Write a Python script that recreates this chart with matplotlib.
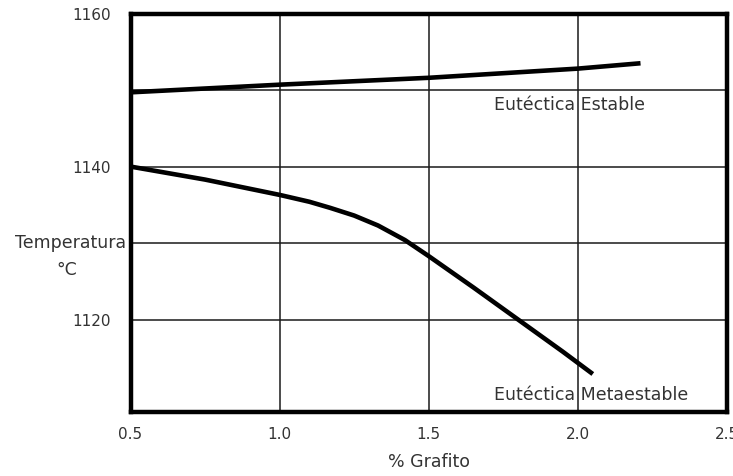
import matplotlib.pyplot as plt

# Curva eutéctica estable (grafito)
x_estable = [0.5, 1.0, 1.5, 2.0, 2.21]
t_estable = [1149.7, 1150.7, 1151.6, 1152.8, 1153.5]

# Curva eutéctica metaestable (cementita)
x_meta = [0.5, 0.75, 1.0, 1.1, 1.17, 1.25, 1.33, 1.42, 1.5, 1.65, 1.8, 1.95, 2.05]
t_meta = [1140.0, 1138.3, 1136.3, 1135.4, 1134.6, 1133.6, 1132.3, 1130.4, 1128.3, 1124.2, 1120.0, 1115.8, 1112.9]

x_ticks = [0.5, 1.0, 1.5, 2.0, 2.5]
x_labels = ['0.5', '1.0', '1.5', '2.0', '2.5']
y_ticks = [1120, 1140, 1160]
y_minor = [1130, 1150]

plt.rcParams.update({
    'font.family': 'DejaVu Sans',
    'font.size': 11,
})

txt_color = '#333333'
label_size = 12.5

fig = plt.figure(figsize=(7.33, 4.76), dpi=100)
ax = fig.add_axes([130.5 / 733, 1 - 411.5 / 476, 596.5 / 733, 398 / 476])

ax.plot(x_estable, t_estable, color='black', lw=3.3, solid_capstyle='butt',
        solid_joinstyle='round', zorder=3)
ax.plot(x_meta, t_meta, color='black', lw=3.3, solid_capstyle='butt',
        solid_joinstyle='round', zorder=3)

ax.set_xlim(0.5, 2.5)
ax.set_ylim(1108, 1160)
ax.set_xticks(x_ticks)
ax.set_xticklabels(x_labels)
ax.set_yticks(y_ticks)
ax.set_yticks(y_minor, minor=True)
ax.tick_params(which='both', length=0, colors=txt_color)
ax.tick_params(axis='x', pad=11)
ax.tick_params(axis='y', pad=14)
ax.grid(True, which='both', color='#1a1a1a', lw=1.1)
ax.set_axisbelow(True)

for s in ax.spines.values():
    s.set_linewidth(3.2)
    s.set_color('black')

ax.set_xlabel('% Grafito', color=txt_color, labelpad=8, fontsize=label_size)
fig.text(71 / 733, 1 - 243 / 476, 'Temperatura', ha='center', va='center',
         color=txt_color, fontsize=label_size)
fig.text(67 / 733, 1 - 270 / 476, '°C', ha='center', va='center',
         color=txt_color, fontsize=label_size)

ax.text(1.72, 1148.0, 'Eutéctica Estable', ha='left', va='center',
        color=txt_color, fontsize=label_size)
ax.text(1.72, 1110.1, 'Eutéctica Metaestable', ha='left', va='center',
        color=txt_color, fontsize=label_size)

fig.savefig('out.png', dpi=100)
